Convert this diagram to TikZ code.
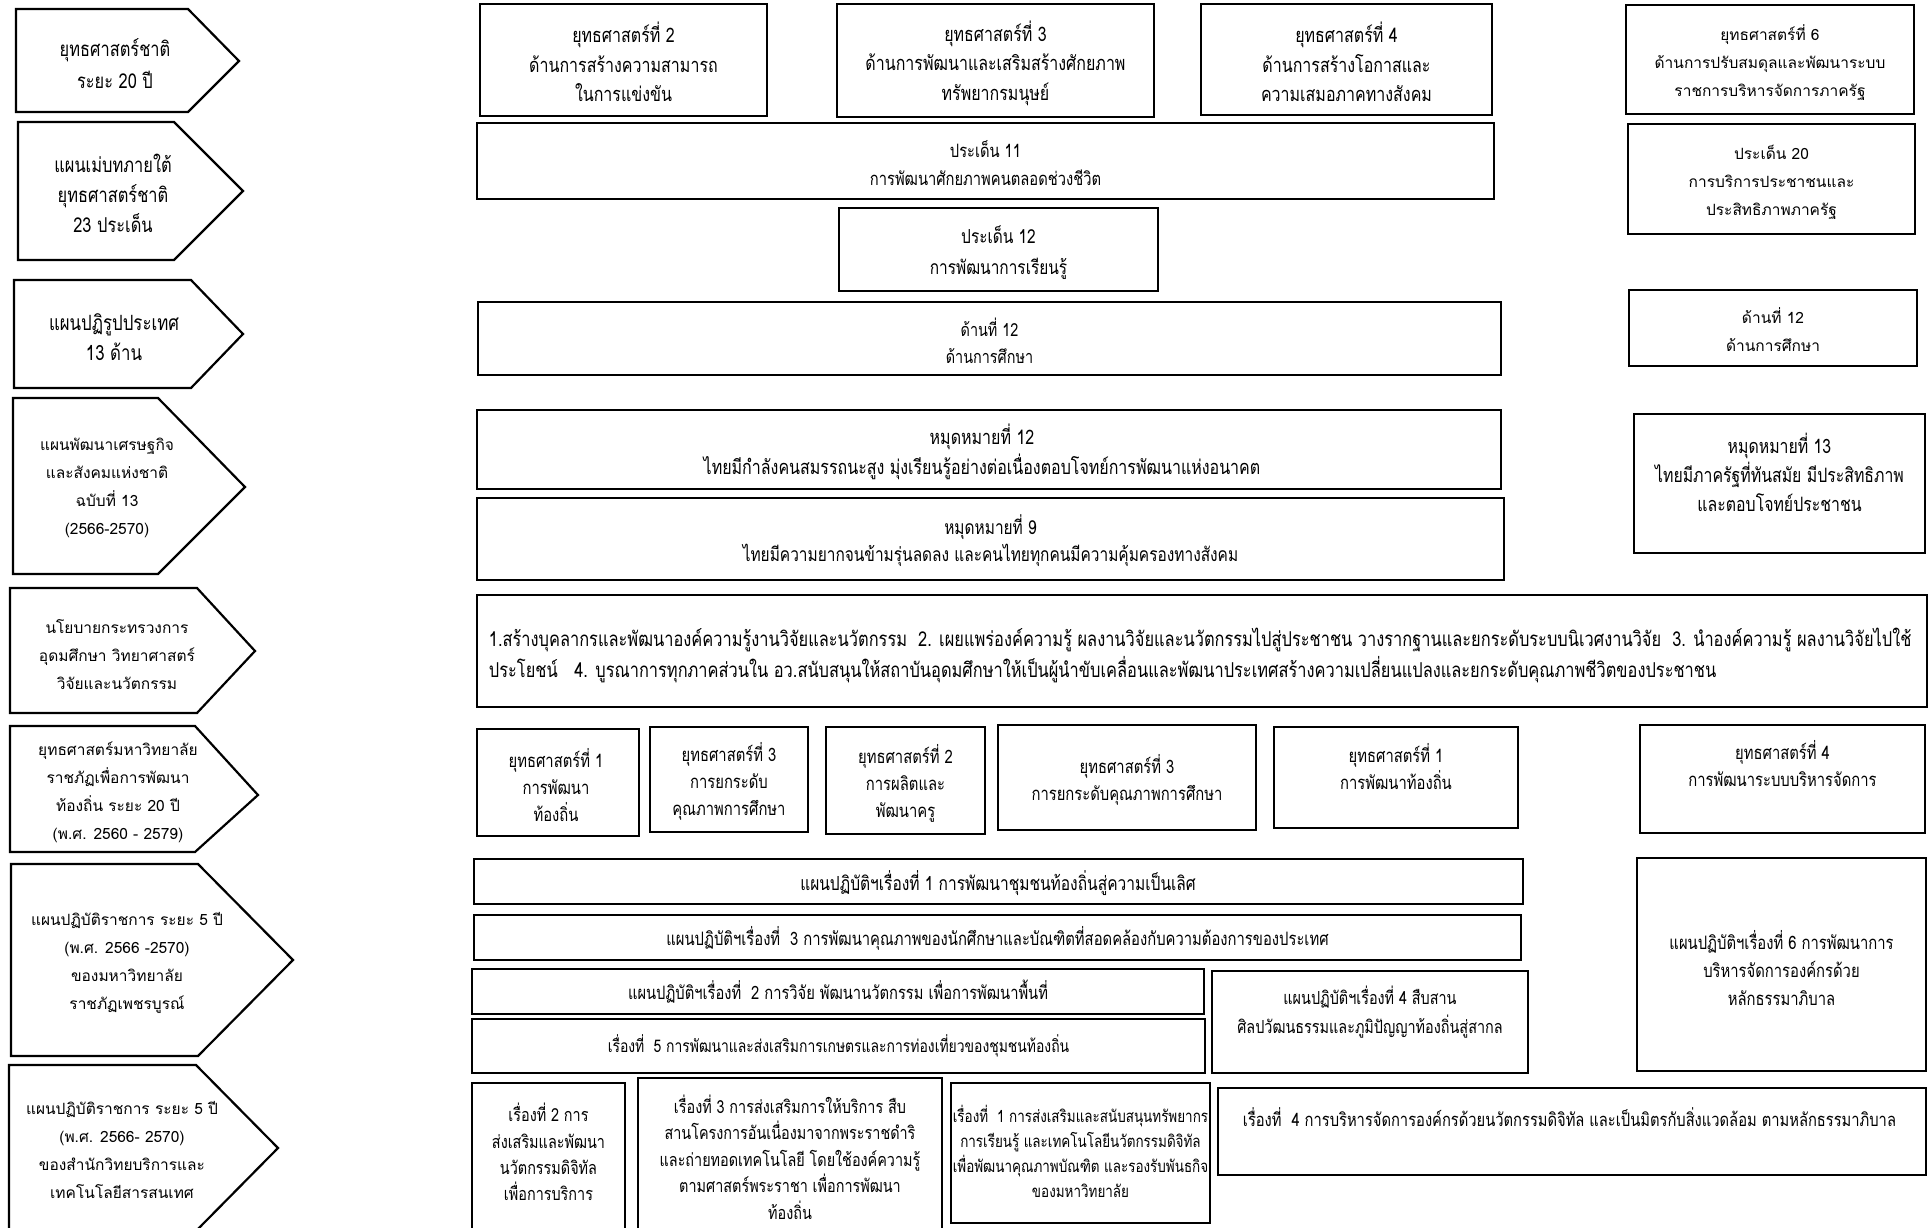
\documentclass[tikz,border=0pt]{standalone}
\usepackage{fontspec}
\usepackage{tikz}
\newfontfamily\thaifont[Script=Thai]{Loma}
\newfontfamily\thainarrow[Script=Thai,FakeStretch=0.8]{Loma}

\begin{document}
\begin{tikzpicture}[x=1pt,y=1pt,yscale=-1,xscale=1,
  box/.style={line width=2.2pt},
  txt/.style={inner sep=0.75pt, align=center, font=\thainarrow\fontsize{18}{29}\selectfont},
  tf/.style 2 args={font=\thainarrow\fontsize{#1}{#2}\selectfont},
  txtw/.style={inner sep=0.75pt, align=center, font=\thaifont\fontsize{15.5}{28}\selectfont}]
\useasboundingbox [fill=white] (0,0) rectangle (1928,1228);

%Shape: Arrows (left column)
\draw [box] (16,9) -- (188,9) -- (239,61) -- (188,112) -- (16,112) -- cycle ;
\draw [box] (18,122) -- (174,122) -- (243,191) -- (174,260) -- (18,260) -- cycle ;
\draw [box] (14,280) -- (191,280) -- (243,334) -- (191,388) -- (14,388) -- cycle ;
\draw [box] (13,398) -- (158,398) -- (245,487) -- (158,574) -- (13,574) -- cycle ;
\draw [box] (10,588) -- (197,588) -- (255,651) -- (197,713) -- (10,713) -- cycle ;
\draw [box] (10,726) -- (195,726) -- (258,795) -- (195,852) -- (10,852) -- cycle ;
\draw [box] (11,864) -- (198,864) -- (293,960) -- (198,1056) -- (11,1056) -- cycle ;
\draw [box] (9,1065) -- (196,1065) -- (278,1148) -- (196,1231) -- (9,1231) -- cycle ;

% Text Node
\node [txt, tf={20.5}{32}] (national) at (115,64) {ยุทธศาสตร์ชาติ\\ระยะ 20 ปี};
% Text Node
\node [txt, tf={20.5}{30}] (master) at (113,193) {แผนเม่บทภายใต้\\ยุทธศาสตร์ชาติ\\23 ประเด็น};
% Text Node
\node [txt, tf={21}{30}] (reform) at (114,337) {แผนปฏิรูปประเทศ\\13 ด้าน};
% Text Node
\node [txtw] (nesdp) at (107,488) {แผนพัฒนาเศรษฐกิจ\\และสังคมแห่งชาติ\\ฉบับที่ 13\\(2566-2570)};
% Text Node
\node [txtw] (policy) at (117,655) {นโยบายกระทรวงการ\\อุดมศึกษา วิทยาศาสตร์\\วิจัยและนวัตกรรม};
% Text Node
\node [txtw] (unistrat) at (118,792) {ยุทธศาสตร์มหาวิทยาลัย\\ราชภัฏเพื่อการพัฒนา\\ท้องถิ่น ระยะ 20 ปี\\(พ.ศ. 2560 - 2579)};
% Text Node
\node [txtw] (uniplan) at (127,963) {แผนปฏิบัติราชการ ระยะ 5 ปี\\(พ.ศ. 2566 -2570)\\ของมหาวิทยาลัย\\ราชภัฏเพชรบูรณ์};
% Text Node
\node [txtw] (libplan) at (122,1150) {แผนปฏิบัติราชการ ระยะ 5 ปี\\(พ.ศ. 2566- 2570)\\ของสำนักวิทยบริการและ\\เทคโนโลยีสารสนเทศ};

%Shape: Rectangles (national strategy)
\draw [box] (480,4) rectangle (767,116) ;
\draw [box] (837,4) rectangle (1154,117) ;
\draw [box] (1201,4) rectangle (1492,115) ;
\draw [box] (1626,5) rectangle (1914,114) ;
% Text Node
\node [txt, tf={20}{29.5}] (strat2) at (623.5,62) {ยุทธศาสตร์ที่ 2\\ด้านการสร้างความสามารถ\\ในการแข่งขัน};
% Text Node
\node [txt, tf={20}{29.5}] (strat3) at (995.5,63) {ยุทธศาสตร์ที่ 3\\ด้านการพัฒนาและเสริมสร้างศักยภาพ\\ทรัพยากรมนุษย์};
% Text Node
\node [txt, tf={20}{29.5}] (strat4) at (1346.5,62) {ยุทธศาสตร์ที่ 4\\ด้านการสร้างโอกาสและ\\ความเสมอภาคทางสังคม};
% Text Node
\node [txtw] (strat6) at (1770,63) {ยุทธศาสตร์ที่ 6\\ด้านการปรับสมดุลและพัฒนาระบบ\\ราชการบริหารจัดการภาครัฐ};

%Shape: Rectangles (master plan issues)
\draw [box] (477,123) rectangle (1494,199) ;
\draw [box] (1628,124) rectangle (1915,234) ;
\draw [box] (839,208) rectangle (1158,291) ;
% Text Node
\node [txt, tf={18.4}{28}] (issue11) at (985.5,163) {ประเด็น 11\\การพัฒนาศักยภาพคนตลอดช่วงชีวิต};
% Text Node
\node [txtw] (issue20) at (1771.5,182) {ประเด็น 20\\การบริการประชาชนและ\\ประสิทธิภาพภาครัฐ};
% Text Node
\node [txt, tf={19.3}{31}] (issue12) at (998.5,253) {ประเด็น 12\\การพัฒนาการเรียนรู้};

%Shape: Rectangles (reform)
\draw [box] (478,302) rectangle (1501,375) ;
\draw [box] (1629,290) rectangle (1917,366) ;
% Text Node
\node [txt, tf={18}{27}] (side12) at (989.5,341) {ด้านที่ 12\\ด้านการศึกษา};
% Text Node
\node [txtw] (side12r) at (1773,330) {ด้านที่ 12\\ด้านการศึกษา};

%Shape: Rectangles (milestones)
\draw [box] (477,410) rectangle (1501,489) ;
\draw [box] (477,498) rectangle (1504,580) ;
\draw [box] (1634,414) rectangle (1925,553) ;
% Text Node
\node [txt, tf={20}{30}] (mile12) at (982,452) {หมุดหมายที่ 12\\ไทยมีกำลังคนสมรรถนะสูง มุ่งเรียนรู้อย่างต่อเนื่องตอบโจทย์การพัฒนาแห่งอนาคต};
% Text Node
\node [txt, tf={19.3}{27}] (mile9) at (990.5,541) {หมุดหมายที่ 9\\ไทยมีความยากจนข้ามรุ่นลดลง และคนไทยทุกคนมีความคุ้มครองทางสังคม};
% Text Node
\node [txt, tf={19.8}{29}] (mile13) at (1779.5,472) {หมุดหมายที่ 13\\ไทยมีภาครัฐที่ทันสมัย มีประสิทธิภาพ\\และตอบโจทย์ประชาชน};

%Shape: Rectangle (ministry policy)
\draw [box] (477,595) rectangle (1927,707) ;
% Text Node
\node [txt, align=left, anchor=west, tf={20.5}{31}] (mhesi) at (488,655) {1.สร้างบุคลากรและพัฒนาองค์ความรู้งานวิจัยและนวัตกรรม~~2. เผยแพร่องค์ความรู้ ผลงานวิจัยและนวัตกรรมไปสู่ประชาชน วางรากฐานและยกระดับระบบนิเวศงานวิจัย~~3. นำองค์ความรู้ ผลงานวิจัยไปใช้\\ประโยชน์~~~4. บูรณาการทุกภาคส่วนใน อว.สนับสนุนให้สถาบันอุดมศึกษาให้เป็นผู้นำขับเคลื่อนและพัฒนาประเทศสร้างความเปลี่ยนแปลงและยกระดับคุณภาพชีวิตของประชาชน};

%Shape: Rectangles (university strategy)
\draw [box] (477,729) rectangle (639,836) ;
\draw [box] (650,727) rectangle (808,832) ;
\draw [box] (826,727) rectangle (985,834) ;
\draw [box] (998,725) rectangle (1256,830) ;
\draw [box] (1274,727) rectangle (1518,828) ;
\draw [box] (1640,725) rectangle (1925,833) ;
% Text Node
\node [txt, tf={18.5}{27}] (ustrat1a) at (556,785) {ยุทธศาสตร์ที่ 1\\การพัฒนา\\ท้องถิ่น};
% Text Node
\node [txt, tf={18.5}{27}] (ustrat3a) at (729,781) {ยุทธศาสตร์ที่ 3\\การยกระดับ\\คุณภาพการศึกษา};
% Text Node
\node [txt, tf={18.5}{27}] (ustrat2) at (905.5,783) {ยุทธศาสตร์ที่ 2\\การผลิตและ\\พัฒนาครู};
% Text Node
\node [txt, tf={18.5}{27}] (ustrat3b) at (1127,780) {ยุทธศาสตร์ที่ 3\\การยกระดับคุณภาพการศึกษา};
% Text Node
\node [txt, tf={18.5}{27}] (ustrat1b) at (1396,767) {ยุทธศาสตร์ที่ 1\\การพัฒนาท้องถิ่น};
% Text Node
\node [txt, tf={18.5}{27}] (ustrat4) at (1782.5,764) {ยุทธศาสตร์ที่ 4\\การพัฒนาระบบบริหารจัดการ};

%Shape: Rectangles (university action plans)
\draw [box] (474,859) rectangle (1523,904) ;
\draw [box] (474,915) rectangle (1521,960) ;
\draw [box] (472,969) rectangle (1204,1014) ;
\draw [box] (472,1019) rectangle (1205,1073) ;
\draw [box] (1212,971) rectangle (1528,1073) ;
\draw [box] (1637,858) rectangle (1926,1071) ;
% Text Node
\node [txt, tf={19.4}{29}] (plan1) at (998,883) {แผนปฏิบัติฯเรื่องที่ 1 การพัฒนาชุมชนท้องถิ่นสู่ความเป็นเลิศ};
% Text Node
\node [txt, tf={18.5}{29}] (plan3) at (997.5,938) {แผนปฏิบัติฯเรื่องที่~~3 การพัฒนาคุณภาพของนักศึกษาและบัณฑิตที่สอดคล้องกับความต้องการของประเทศ};
% Text Node
\node [txt, tf={18.4}{29}] (plan2) at (838,992) {แผนปฏิบัติฯเรื่องที่~~2 การวิจัย พัฒนานวัตกรรม เพื่อการพัฒนาพื้นที่};
% Text Node
\node [txt, tf={17.4}{29}] (topic5) at (838.5,1046) {เรื่องที่~~5 การพัฒนาและส่งเสริมการเกษตรและการท่องเที่ยวของชุมชนท้องถิ่น};
% Text Node
\node [txt, tf={18}{29}] (plan4) at (1370,1012) {แผนปฏิบัติฯเรื่องที่ 4 สืบสาน\\ศิลปวัฒนธรรมและภูมิปัญญาท้องถิ่นสู่สากล};
% Text Node
\node [txt, tf={18.5}{28}] (plan6) at (1781.5,968) {แผนปฏิบัติฯเรื่องที่ 6 การพัฒนาการ\\บริหารจัดการองค์กรด้วย\\หลักธรรมาภิบาล};

%Shape: Rectangles (library action plans)
\draw [box] (472,1083) rectangle (625,1240) ;
\draw [box] (638,1078) rectangle (942,1240) ;
\draw [box] (951,1083) rectangle (1210,1223) ;
\draw [box] (1218,1088) rectangle (1926,1175) ;
% Text Node
\node [txt, tf={18}{26.3}] (lib2) at (548.5,1152) {เรื่องที่ 2 การ\\ส่งเสริมและพัฒนา\\นวัตกรรมดิจิทัล\\เพื่อการบริการ};
% Text Node
\node [txt, tf={18}{26.5}] (lib3) at (790,1157) {เรื่องที่ 3 การส่งเสริมการให้บริการ สืบ\\สานโครงการอันเนื่องมาจากพระราชดำริ\\และถ่ายทอดเทคโนโลยี โดยใช้องค์ความรู้\\ตามศาสตร์พระราชา เพื่อการพัฒนา\\ท้องถิ่น};
% Text Node
\node [txt, tf={16.8}{25}] (lib1) at (1080.5,1151) {เรื่องที่~~1 การส่งเสริมและสนับสนุนทรัพยากร\\การเรียนรู้ และเทคโนโลยีนวัตกรรมดิจิทัล\\เพื่อพัฒนาคุณภาพบัณฑิต และรองรับพันธกิจ\\ของมหาวิทยาลัย};
% Text Node
\node [txt, tf={18.4}{29}] (lib4) at (1569.5,1117) {เรื่องที่~~4 การบริหารจัดการองค์กรด้วยนวัตกรรมดิจิทัล และเป็นมิตรกับสิ่งแวดล้อม ตามหลักธรรมาภิบาล};
\end{tikzpicture}
\end{document}
